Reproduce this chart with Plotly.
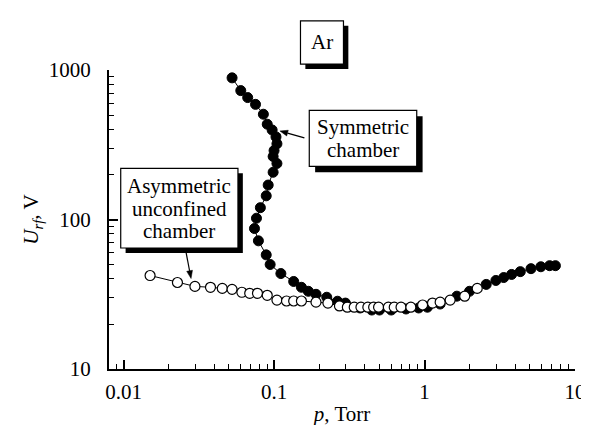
import math
import plotly.graph_objects as go

# ---- data ----
sym_p = [0.0526, 0.0601, 0.0668, 0.0753, 0.0849, 0.0901, 0.0971, 0.103, 0.1045, 0.100,
         0.0986, 0.1045, 0.0986, 0.0914, 0.0887, 0.0811, 0.0764, 0.0741, 0.0787, 0.0887,
         0.0942, 0.111, 0.135, 0.152, 0.169, 0.190, 0.224, 0.264, 0.298, 0.373,
         0.446, 0.502, 0.601, 0.753, 0.914, 1.045, 1.27, 1.64, 1.99, 2.57,
         2.98, 3.36, 3.79, 4.33, 5.10, 5.93, 6.78, 7.41]
sym_u = [886, 728, 654, 589, 506, 434, 397, 357, 321, 289,
         264, 237, 207, 170, 144, 120, 102, 87, 72, 58,
         50, 43.5, 38.5, 35.2, 33.1, 31.6, 30.2, 28.4, 27.6, 25.6,
         24.8, 24.8, 24.8, 25.2, 25.6, 25.9, 27.2, 30.7, 33.1, 36.8,
         39.1, 40.9, 42.9, 44.8, 46.9, 48.3, 49.1, 49.1]

asym_p = [0.0150, 0.0228, 0.0298, 0.0378, 0.0453, 0.0526, 0.0611, 0.0689, 0.0776, 0.0901,
          0.1045, 0.121, 0.135, 0.152, 0.190, 0.228, 0.272, 0.307, 0.341, 0.378,
          0.420, 0.459, 0.495, 0.575, 0.629, 0.698, 0.811, 0.971, 1.13, 1.27,
          1.48, 1.85, 2.24]
asym_u = [42.2, 37.9, 35.7, 35.2, 34.6, 34.1, 32.6, 32.1, 32.1, 31.1,
          28.9, 28.5, 28.5, 28.5, 28.0, 27.6, 26.4, 25.9, 25.9, 25.9,
          25.9, 25.9, 25.9, 25.9, 25.9, 25.9, 25.9, 26.8, 27.6, 28.0,
          28.9, 30.7, 34.6]

x_tickvals = [0.01, 0.1, 1, 10]
x_ticktext = ["0.01", "0.1", "1", "10"]
y_tickvals = [10, 100, 1000]
y_ticktext = ["10", "100", "1000"]

# ---- layout geometry (pixels) ----
W, H = 589, 425
L, R, T, B = 101, 578, 62, 366
FONT = "Liberation Serif, Times New Roman, serif"


def px(x):
    return (x - L) / (R - L)


def py(y):
    return (B - y) / (B - T)


fig = go.Figure()
fig.add_trace(go.Scatter(
    x=sym_p, y=sym_u, mode="lines+markers",
    line=dict(color="black", width=1),
    marker=dict(symbol="circle", size=10, color="black", line=dict(color="black", width=1)),
    showlegend=False))
fig.add_trace(go.Scatter(
    x=asym_p, y=asym_u, mode="lines+markers",
    line=dict(color="black", width=1),
    marker=dict(symbol="circle", size=10, color="white", line=dict(color="black", width=1.2)),
    showlegend=False))

shapes = []
annotations = []


def shadow_box(x0, y0, x1, y1, off):
    shapes.append(dict(type="rect", xref="paper", yref="paper",
                       x0=px(x0 + off), x1=px(x1 + off), y0=py(y1 + off), y1=py(y0 + off),
                       fillcolor="black", line=dict(width=0), layer="above"))
    shapes.append(dict(type="rect", xref="paper", yref="paper",
                       x0=px(x0), x1=px(x1), y0=py(y1), y1=py(y0),
                       fillcolor="white", line=dict(color="black", width=1.2), layer="above"))


def text(xc, yc, s, size=21):
    annotations.append(dict(xref="paper", yref="paper", x=px(xc), y=py(yc), text=s,
                            showarrow=False, xanchor="center", yanchor="middle",
                            font=dict(family=FONT, size=size, color="black")))


def arrow(hx, hy, tx, ty, head=8, half=3):
    dx, dy = hx - tx, hy - ty
    n = math.hypot(dx, dy)
    ux, uy = dx / n, dy / n
    bx, by = hx - ux * head, hy - uy * head
    shapes.append(dict(type="line", xref="paper", yref="paper",
                       x0=px(tx), y0=py(ty), x1=px(bx), y1=py(by),
                       line=dict(color="black", width=1.2), layer="above"))
    p1 = (bx - uy * half, by + ux * half)
    p2 = (bx + uy * half, by - ux * half)
    path = "M {:.5f} {:.5f} L {:.5f} {:.5f} L {:.5f} {:.5f} Z".format(
        px(hx), py(hy), px(p1[0]), py(p1[1]), px(p2[0]), py(p2[1]))
    shapes.append(dict(type="path", xref="paper", yref="paper", path=path,
                       fillcolor="black", line=dict(color="black", width=0.5), layer="above"))


# Ar box
shadow_box(297, 12, 341, 56, 5)
text(319, 34, "Ar")
# Symmetric chamber box
shadow_box(306, 103, 416, 160, 6)
text(361, 120, "Symmetric")
text(361, 143, "chamber")
arrow(276, 124, 301, 131)
# Asymmetric unconfined chamber box
shadow_box(113, 162, 233, 243, 5)
text(173, 180, "Asymmetric")
text(173, 203, "unconfined")
text(173, 226, "chamber")
arrow(185, 274, 180, 248)

axis_common = dict(
    type="log", showline=True, linecolor="black", linewidth=2, mirror=False,
    showgrid=False, zeroline=False, ticks="inside", ticklen=9, tickwidth=1.5,
    tickcolor="black", tickfont=dict(family=FONT, size=21, color="black"),
    minor=dict(ticks="inside", ticklen=5, tickwidth=1.2, tickcolor="black",
               dtick="D1", showgrid=False),
)

fig.update_layout(
    width=W, height=H,
    margin=dict(l=L, r=W - R, t=T, b=H - B, pad=0),
    paper_bgcolor="white", plot_bgcolor="white",
    xaxis=dict(axis_common, range=[-2.09691, 1], tickvals=x_tickvals, ticktext=x_ticktext,
               ticklabelstandoff=3,
               title=dict(text="<i>p</i>, Torr", standoff=3,
                          font=dict(family=FONT, size=21, color="black"))),
    yaxis=dict(axis_common, range=[1, 3], tickvals=y_tickvals, ticktext=y_ticktext,
               ticklabelstandoff=12,
               title=dict(text="<i>U</i><sub><i>rf</i></sub>, V", standoff=4,
                          font=dict(family=FONT, size=21, color="black"))),
    shapes=shapes, annotations=annotations,
)

fig.write_html("out.html")
